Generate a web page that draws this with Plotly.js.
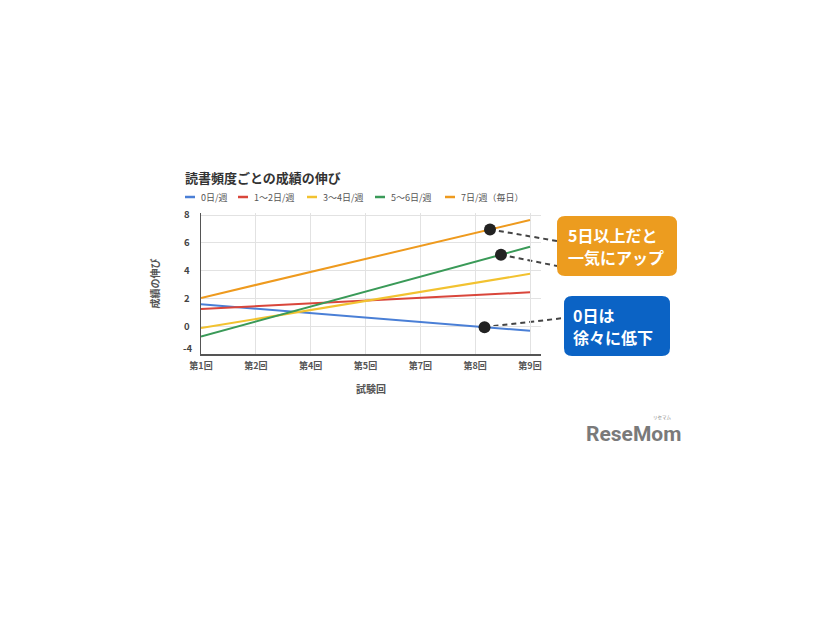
<!DOCTYPE html>
<html><head><meta charset="utf-8">
<script src="https://cdn.plot.ly/plotly-3.0.1.min.js"></script>
<style>body{margin:0;background:#fff}#c{width:826px;height:620px}</style>
</head><body><div id="c"></div>
<script>
// Categories (exam rounds) and tick labels
const rounds = ['第1回','第2回','第4回','第5回','第7回','第8回','第9回'];
const roundIdx = [0,1,2,3,4,5,6];
// Trend lines: values at first and last round
const lineX = [0, 6];
const seriesNames = ['0日/週','1〜2日/週','3〜4日/週','5〜6日/週','7日/週（毎日）'];
const s0 = [1.59, -0.31];
const s12 = [1.26, 2.45];
const s34 = [-0.12, 3.78];
const s56 = [-0.72, 5.72];
const s7 = [2.05, 7.65];
const colors = ['#4A7FD6','#D9463B','#F2C230','#3A9A58','#EE9A1E'];
// Y ticks
const yTickVals = [0,2,4,6,8];
const yTickText = ['0','2','4','6','8'];
const yLowTickVal = [-1.63];
const yLowTickText = ['-4'];
// Callout points
const calloutX = [5.27, 5.47, 5.17];
const calloutY = [6.97, 5.15, -0.05];
const calloutLines = [['5日以上だと','一気にアップ'],['0日は','徐々に低下']];

const xr = [0, 6.2], yr = [-1.98, 8.15];
const font = 'Noto Sans CJK JP, Noto Sans, sans-serif';
const bold = a => a.map(t => '<b>' + t + '</b>');
const all = [s0,s12,s34,s56,s7];
const traces = all.map((s,i)=>({
  type:'scatter', mode:'lines', x:lineX, y:s, name:seriesNames[i], showlegend:false,
  line:{color:colors[i], width:2}, hoverinfo:'skip'
}));
traces.push({type:'scatter',mode:'markers',x:calloutX,y:calloutY,showlegend:false,
  marker:{color:'#222',size:12},cliponaxis:false,hoverinfo:'skip'});
traces.push({type:'scatter',mode:'markers',x:[0],y:[0],yaxis:'y2',showlegend:false,
  marker:{opacity:0},hoverinfo:'skip'});

const px = v => (v - xr[0])/(xr[1]-xr[0]);
const py = v => (v - yr[0])/(yr[1]-yr[0]);
const W = 340, H = 141;
const pxp = p => (p - 201)/W, pyp = p => (354 - p)/H;
function rrect(x0,y0,x1,y1,r){
  const rx=r/W, ry=r/H;
  const a=pxp(x0), b=pxp(x1), t=pyp(y0), u=pyp(y1);
  return `M${a+rx},${t} L${b-rx},${t} Q${b},${t} ${b},${t-ry} L${b},${u+ry} Q${b},${u} ${b-rx},${u} L${a+rx},${u} Q${a},${u} ${a},${u+ry} L${a},${t-ry} Q${a},${t} ${a+rx},${t} Z`;
}
const ends = [[557,241],[557,266],[564,318]];
const shapes = [
  {type:'path',xref:'paper',yref:'paper',path:rrect(557,216,677,276,8),fillcolor:'#EC9C1F',line:{width:0}},
  {type:'path',xref:'paper',yref:'paper',path:rrect(564,296,670,356,8),fillcolor:'#0B63C5',line:{width:0}}
];
calloutX.forEach((x,i)=>{
  shapes.push({type:'line',xref:'paper',yref:'paper',x0:px(x),y0:py(calloutY[i]),
    x1:pxp(ends[i][0]),y1:pyp(ends[i][1]),line:{color:'#444',width:2,dash:'5px,4px'},layer:'below'});
});

// custom legend (symbol x, text x)
const legSym = [185, 238, 307, 375, 445];
const legTxt = [199, 252, 321, 389, 459];
seriesNames.forEach((n,i)=>{
  shapes.push({type:'line',xref:'paper',yref:'paper',x0:pxp(legSym[i]),x1:pxp(legSym[i]+10),
    y0:pyp(197),y1:pyp(197),line:{color:colors[i],width:2.5}});
});
const cf = {size:16,color:'#fff',family:font};
const annotations = [
  {xref:'paper',yref:'paper',x:pxp(183),y:pyp(177),xanchor:'left',yanchor:'middle',
   text:'<b>読書頻度ごとの成績の伸び</b>',font:{size:13,color:'#333',family:font},showarrow:false},
  {xref:'paper',yref:'paper',x:pxp(567),y:pyp(234.5),xanchor:'left',yanchor:'middle',borderpad:0,
   text:'<b>'+calloutLines[0][0]+'</b>',font:cf,showarrow:false},
  {xref:'paper',yref:'paper',x:pxp(567),y:pyp(256.5),xanchor:'left',yanchor:'middle',borderpad:0,
   text:'<b>'+calloutLines[0][1]+'</b>',font:cf,showarrow:false},
  {xref:'paper',yref:'paper',x:pxp(572),y:pyp(314.5),xanchor:'left',yanchor:'middle',borderpad:0,
   text:'<b>'+calloutLines[1][0]+'</b>',font:cf,showarrow:false},
  {xref:'paper',yref:'paper',x:pxp(572),y:pyp(336.5),xanchor:'left',yanchor:'middle',borderpad:0,
   text:'<b>'+calloutLines[1][1]+'</b>',font:cf,showarrow:false},
  {xref:'paper',yref:'paper',x:pxp(584),y:pyp(434),xanchor:'left',yanchor:'middle',
   text:'<b>ReseMom</b>',font:{size:21,color:'#7a7a7a',family:'Roboto, sans-serif'},showarrow:false},
  {xref:'paper',yref:'paper',x:pxp(674),y:pyp(417),xanchor:'middle',yanchor:'middle',
   text:'リセマム',font:{size:4.5,color:'#888',family:font},showarrow:false}
];
seriesNames.forEach((n,i)=>{
  annotations.push({xref:'paper',yref:'paper',x:pxp(legTxt[i]),y:pyp(197),xanchor:'left',yanchor:'middle',
    text:n,font:{size:9,color:'#555',family:font},showarrow:false});
});

const layout = {
  width:826,height:620,paper_bgcolor:'#fff',plot_bgcolor:'#fff',
  margin:{l:201,r:285,t:213,b:266},
  font:{family:font,color:'#444'},
  showlegend:false,
  xaxis:{range:xr,tickvals:roundIdx,ticktext:bold(rounds),showgrid:true,gridcolor:'#e2e2e2',
    zeroline:false,showline:true,linecolor:'#555',linewidth:1.5,ticks:'',ticklabelstandoff:3,
    tickfont:{size:9,color:'#555',family:font},
    title:{text:'<b>試験回</b>',font:{size:10,color:'#555'},standoff:14}},
  yaxis:{range:yr,tickvals:yTickVals,ticktext:bold(yTickText),showgrid:true,gridcolor:'#e2e2e2',
    zeroline:false,showline:true,linecolor:'#555',linewidth:1.5,ticks:'',ticklabelstandoff:8,
    tickfont:{size:9.5,color:'#444',family:font},
    title:{text:'<b>成績の伸び</b>',font:{size:10,color:'#555'},standoff:22}},
  yaxis2:{range:yr,overlaying:'y',side:'left',tickvals:yLowTickVal,ticktext:bold(yLowTickText),
    showgrid:false,zeroline:false,showline:false,ticks:'',ticklabelstandoff:8,
    tickfont:{size:9.5,color:'#444',family:font}},
  shapes:shapes,
  annotations:annotations
};
Plotly.newPlot('c',traces,layout,{displayModeBar:false,staticPlot:true});
</script></body></html>
